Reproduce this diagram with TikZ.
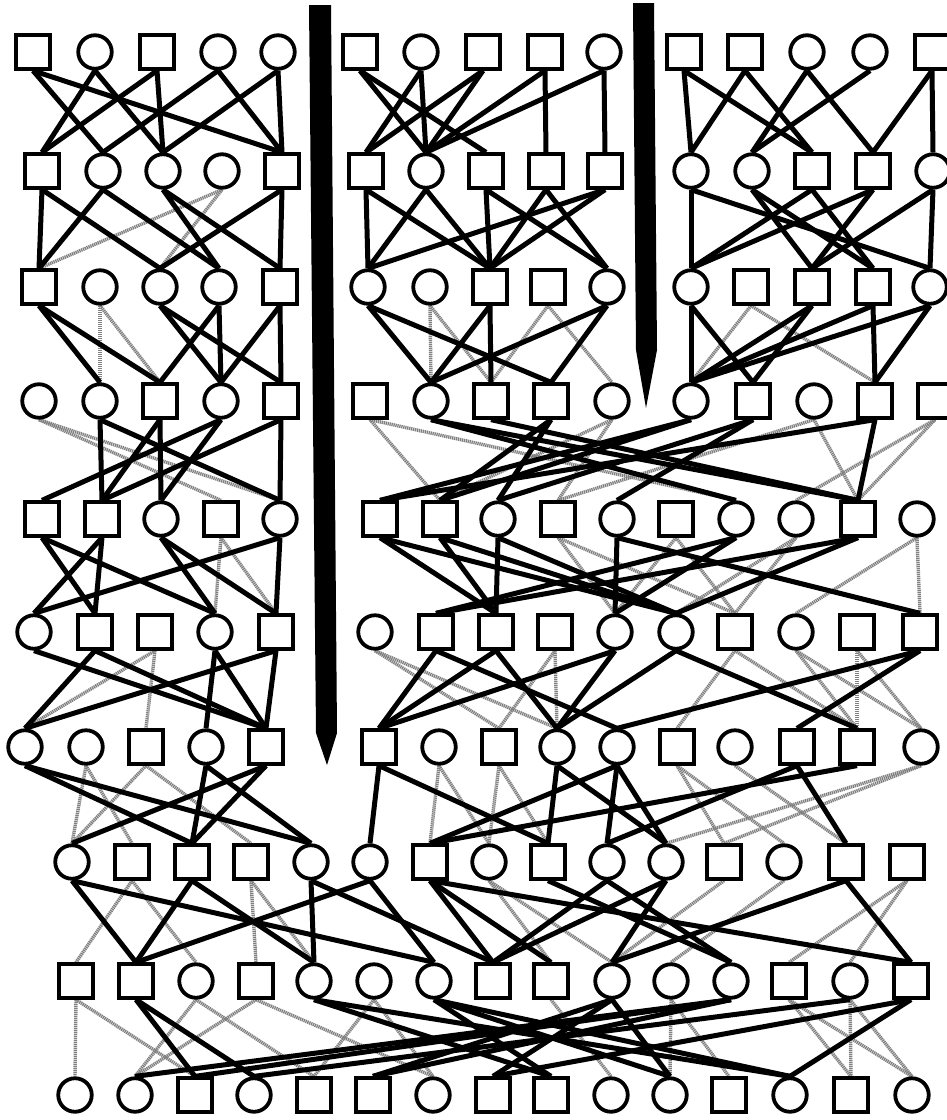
\documentclass[tikz,border=0pt]{standalone}
\pgfdeclarelayer{bg}
\pgfsetlayers{bg,main}
\tikzset{
 nd/.style={draw=black, line width=3.8pt, fill=white, inner sep=0pt, minimum size=33.5pt},
 sq/.style={nd, rectangle},
 ci/.style={nd, circle},
 blk/.style={line width=5pt, black},
 gry/.style={line width=3.4pt, black!50, dash pattern=on 1.3pt off 0.7pt},
}
\begin{document}
\begin{tikzpicture}[x=1pt,y=-1pt]
\useasboundingbox (0,0) rectangle (946,1120);
% bars
\fill (309,5) -- (331,5) -- (337,733) -- (327,765) -- (316,733) -- cycle;
\fill (633,3) -- (654,3) -- (657,350) -- (646,408) -- (636,350) -- cycle;
% nodes
\foreach \n/\s/\x in {1a/sq/33,1b/ci/95,1c/sq/157,1d/ci/218,1e/ci/278,1f/sq/360,1g/ci/421,1h/sq/483,1i/sq/545,1j/ci/604,1k/sq/684,1l/sq/745,1m/ci/807,1n/ci/870,1o/sq/932}{\node[\s] (\n) at (\x,52) {};}
\foreach \n/\s/\x in {2a/sq/42,2b/ci/103,2c/ci/163,2d/ci/222,2e/sq/282,2f/sq/366,2g/ci/426,2h/sq/486,2i/sq/546,2j/sq/605,2k/ci/691,2l/ci/752,2m/sq/812,2n/sq/873,2o/ci/933}{\node[\s] (\n) at (\x,171) {};}
\foreach \n/\s/\x in {3a/sq/39,3b/ci/100,3c/ci/160,3d/ci/219,3e/sq/280,3f/ci/368,3g/ci/430,3h/sq/490,3i/sq/548,3j/ci/607,3k/ci/691,3l/sq/751,3m/sq/812,3n/sq/873,3o/ci/930}{\node[\s] (\n) at (\x,287) {};}
\foreach \n/\s/\x in {4a/ci/39,4b/ci/100,4c/sq/160,4d/ci/221,4e/sq/281,4f/sq/370,4g/ci/431,4h/sq/491,4i/sq/551,4j/ci/612,4k/ci/691,4l/sq/753,4m/ci/814,4n/sq/875,4o/sq/935}{\node[\s] (\n) at (\x,401) {};}
\foreach \n/\s/\x in {5a/sq/42,5b/sq/102,5c/ci/161,5d/sq/221,5e/ci/280,5f/sq/380,5g/sq/440,5h/ci/498,5i/sq/558,5j/ci/617,5k/sq/676,5l/ci/736,5m/ci/796,5n/sq/858,5o/ci/917}{\node[\s] (\n) at (\x,519) {};}
\foreach \n/\s/\x in {6a/ci/34,6b/sq/95,6c/sq/155,6d/ci/215,6e/sq/276,6f/ci/375,6g/sq/436,6h/sq/496,6i/sq/555,6j/ci/615,6k/ci/676,6l/sq/735,6m/ci/796,6n/sq/857,6o/sq/920}{\node[\s] (\n) at (\x,632) {};}
\foreach \n/\s/\x in {7a/ci/25,7b/ci/86,7c/sq/146,7d/ci/206,7e/sq/266,7f/sq/379,7g/ci/439,7h/sq/499,7i/ci/557,7j/ci/617,7k/sq/677,7l/ci/735,7m/sq/797,7n/sq/857,7o/ci/921}{\node[\s] (\n) at (\x,747) {};}
\foreach \n/\s/\x in {8a/ci/72,8b/sq/132,8c/sq/192,8d/sq/251,8e/ci/311,8f/ci/370,8g/sq/430,8h/ci/489,8i/sq/548,8j/ci/607,8k/ci/666,8l/sq/724,8m/ci/784,8n/sq/846,8o/sq/907}{\node[\s] (\n) at (\x,862) {};}
\foreach \n/\s/\x in {9a/sq/76,9b/sq/136,9c/ci/196,9d/sq/256,9e/ci/314,9f/ci/374,9g/ci/434,9h/sq/493,9i/sq/551,9j/ci/612,9k/ci/671,9l/ci/731,9m/sq/789,9n/ci/850,9o/sq/911}{\node[\s] (\n) at (\x,981) {};}
\foreach \n/\s/\x in {10a/ci/75,10b/ci/135,10c/sq/195,10d/ci/254,10e/sq/314,10f/sq/373,10g/ci/433,10h/sq/493,10i/sq/551,10j/ci/611,10k/ci/670,10l/sq/729,10m/ci/790,10n/sq/851,10o/ci/912}{\node[\s] (\n) at (\x,1095) {};}
\begin{pgfonlayer}{bg}
% gray edges
\foreach \a/\b in {2d/3a,2d/3c,
 3b/4b,3b/4c,3g/4g,3g/4h,3i/4h,3i/4j,3l/4k,3l/4n,
 4a/5d,4a/5e,4f/5g,4f/5l,4j/5i,4j/5g,4m/5i,4m/5n,4o/5n,4o/5m,
 5d/6d,5d/6e,5i/6j,5i/6l,5k/6j,5k/6l,5m/6k,5m/6l,5o/6m,5o/6o,
 6c/7c,6c/7a,6f/7h,6f/7i,6i/7i,6i/7h,6l/7k,6l/7n,6m/7n,6m/7o,6n/7n,6n/7o,
 7b/8a,7b/8b,7c/8a,7c/8d,7g/8g,7g/8h,7h/8h,7h/8i,7k/8l,7k/8m,7l/8n,7o/8k,7o/8l,
 8b/9a,8b/9c,8d/9d,8d/9e,8h/9i,8h/9j,8l/9j,8m/9k,8o/9m,8o/9n,
 9a/10a,9a/10c,9c/10b,9c/10e,9d/10b,9d/10g,9f/10e,9f/10g,9i/10j,9k/10k,9k/10l,9m/10n,9m/10o,9n/10n,9n/10o}
 {\draw[gry] (\a.south) -- (\b.north);}
% black edges
\foreach \a/\b in {1a/2b,1a/2e,1b/2a,1b/2c,1c/2a,1c/2c,1d/2b,1d/2e,1e/2c,1e/2e,
 1f/2g,1f/2h,1g/2f,1g/2g,1h/2f,1h/2g,1i/2g,1i/2i,1j/2g,1j/2j,
 1k/2k,1k/2m,1l/2k,1l/2m,1m/2l,1m/2n,1n/2l,1o/2n,1o/2o,
 2a/3a,2a/3c,2b/3a,2b/3d,2c/3d,2c/3e,2e/3c,2e/3e,
 2f/3f,2f/3h,2g/3f,2g/3h,2h/3h,2h/3j,2i/3h,2i/3j,2j/3h,2j/3f,
 2k/3k,2k/3o,2l/3m,2l/3n,2m/3k,2m/3n,2n/3k,2n/3m,2o/3m,2o/3o,
 3a/4b,3a/4c,3c/4d,3c/4e,3d/4c,3d/4d,3e/4d,3e/4e,
 3f/4g,3f/4i,3h/4g,3h/4h,3j/4g,3j/4i,
 3k/4k,3k/4l,3m/4k,3m/4l,3n/4k,3n/4n,3o/4k,3o/4n,
 4b/5b,4b/5e,4c/5b,4c/5c,4d/5a,4d/5c,4e/5b,4e/5e,
 4g/5l,4g/5n,4h/5n,4i/5g,4i/5h,4k/5f,4k/5g,4l/5h,4l/5j,4n/5f,4n/5n,
 5a/6b,5a/6d,5b/6a,5b/6b,5c/6d,5c/6e,5e/6a,5e/6e,
 5f/6h,5f/6k,5g/6h,5g/6k,5h/6h,5h/6k,5j/6j,5j/6o,5l/6j,5l/6g,5n/6k,5n/6g,
 6a/7e,6b/7a,6b/7e,6d/7d,6d/7e,6e/7a,6e/7e,
 6g/7f,6g/7j,6h/7f,6h/7i,6j/7f,6j/7i,6k/7i,6k/7n,6o/7j,6o/7m,
 7a/8c,7a/8e,7d/8c,7d/8e,7e/8a,7e/8c,7f/8f,7f/8i,7i/8i,7i/8k,7j/8j,7j/8k,7j/8g,7m/8j,7m/8n,7n/8g,
 8a/9b,8a/9g,8c/9b,8c/9e,8e/9e,8e/9h,8f/9b,8f/9g,8g/9h,8g/9i,8g/9o,8i/9l,8j/9h,8j/9l,8k/9h,8k/9j,8n/9j,8n/9o,
 9b/10c,9b/10d,9e/10i,9e/10m,9g/10i,9g/10k,9g/10m,9j/10h,9j/10k,9j/10f,9l/10b,9l/10c,9l/10f,9n/10d,9o/10h,9o/10m}
 {\draw[blk] (\a.south) -- (\b.north);}
\end{pgfonlayer}
\end{tikzpicture}
\end{document}
